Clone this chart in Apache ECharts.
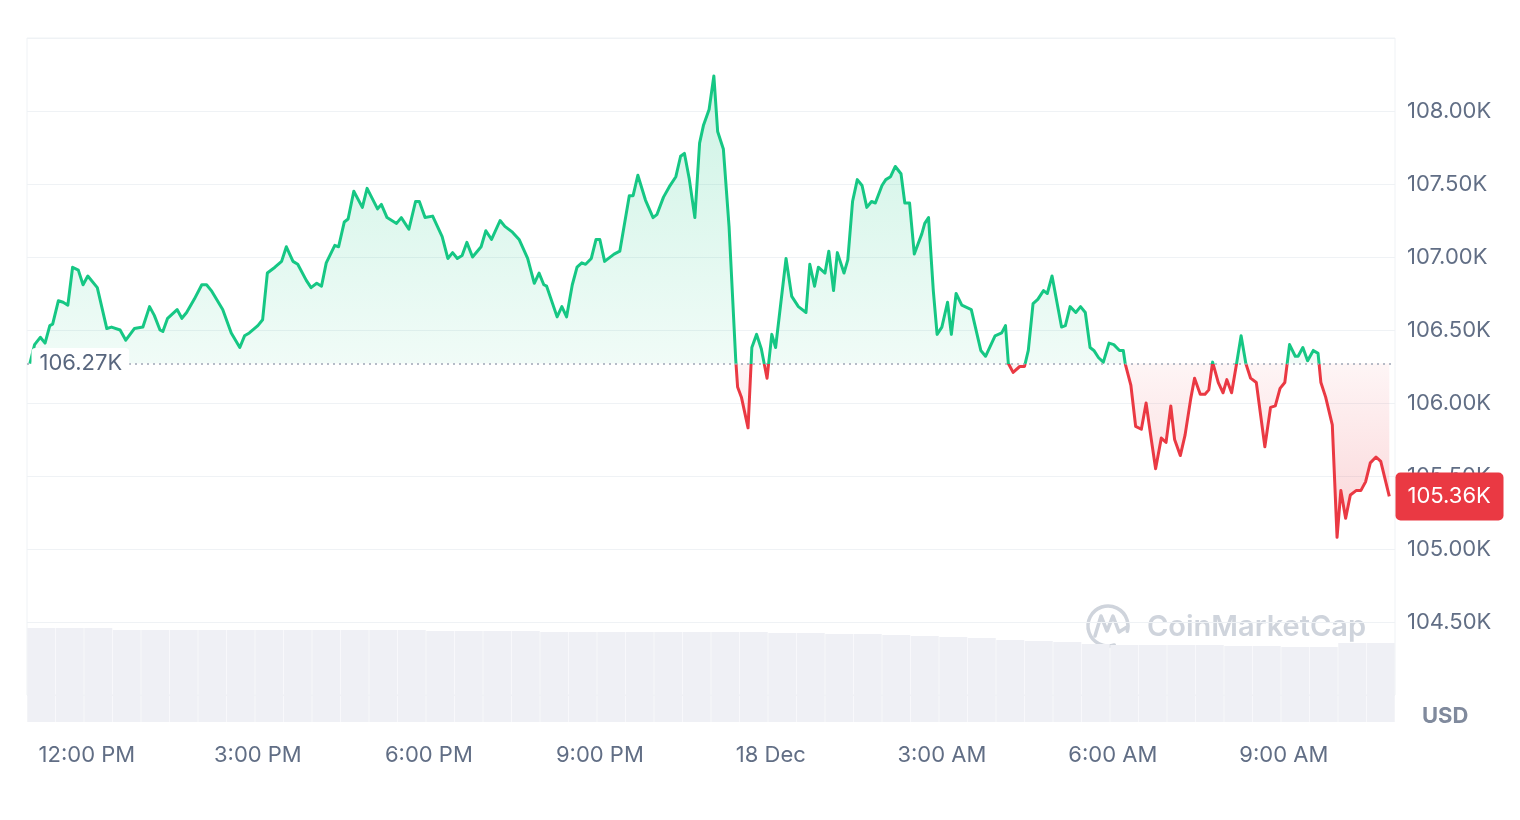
<!DOCTYPE html>
<html>
<head>
<meta charset="utf-8">
<title>BTC / USD - 24h</title>
<script src="https://cdn.jsdelivr.net/npm/echarts@6/dist/echarts.min.js"></script>
<style>
  html, body { margin: 0; padding: 0; background: #fff; }
  #chart { width: 1520px; height: 820px; }
</style>
</head>
<body>
<div id="chart"></div>
<script>
// minutes after 11:00 AM, 17 Dec
const times = [
  0, 5, 11, 16, 21, 24, 30, 35, 40, 45, 51, 56, 61, 71, 81, 86, 95, 101, 110, 119,
  126, 131, 137, 140, 145, 155, 160, 165, 173, 181, 186, 191, 203, 212, 221, 226, 231, 240, 245, 250,
  258, 265, 270, 277, 282, 291, 296, 302, 307, 312, 321, 325, 331, 335, 341, 350, 355, 366, 370, 376,
  386, 391, 399, 406, 410, 416, 424, 434, 440, 445, 450, 455, 460, 466, 475, 480, 486, 495, 500, 508,
  515, 524, 531, 536, 541, 544, 555, 560, 565, 571, 576, 581, 585, 591, 596, 600, 605, 615, 621, 631,
  635, 640, 648, 656, 660, 667, 673, 680, 685, 689, 694, 700, 705, 709, 715, 720, 724, 730, 736, 743,
  745, 749, 756, 760, 765, 770, 776, 781, 785, 796, 802, 809, 817, 821, 826, 830, 837, 841, 846, 850,
  857, 861, 866, 871, 876, 881, 886, 890, 897, 901, 906, 911, 917, 921, 926, 931, 939, 942, 946, 951,
  955, 960, 966, 970, 975, 981, 991, 1001, 1006, 1016, 1023, 1027, 1030, 1035, 1042, 1047, 1051, 1056, 1061, 1067,
  1071, 1076, 1086, 1090, 1095, 1101, 1106, 1111, 1116, 1120, 1125, 1130, 1136, 1141, 1147, 1151, 1153, 1159, 1164, 1170,
  1175, 1180, 1185, 1191, 1196, 1201, 1205, 1211, 1216, 1222, 1226, 1232, 1237, 1241, 1245, 1251, 1256, 1260, 1265, 1270,
  1275, 1280, 1285, 1291, 1300, 1306, 1311, 1316, 1321, 1326, 1332, 1335, 1340, 1345, 1351, 1356, 1359, 1364, 1371, 1376,
  1380, 1385, 1390, 1396, 1401, 1406, 1411, 1417, 1422, 1431
];

// BTC price, USD
const prices = [
  106270, 106400, 106450, 106410, 106530, 106540, 106700, 106690, 106670, 106930,
  106910, 106810, 106870, 106790, 106510, 106520, 106500, 106430, 106510, 106520,
  106660, 106600, 106500, 106490, 106580, 106640, 106580, 106620, 106710, 106810,
  106810, 106770, 106640, 106480, 106380, 106460, 106480, 106530, 106570, 106890,
  106930, 106970, 107070, 106970, 106950, 106840, 106790, 106820, 106800, 106960,
  107080, 107070, 107240, 107260, 107450, 107340, 107470, 107330, 107360, 107270,
  107230, 107270, 107190, 107380, 107380, 107270, 107280, 107140, 106990, 107030,
  106990, 107010, 107100, 107000, 107070, 107180, 107120, 107250, 107210, 107170,
  107120, 106990, 106820, 106890, 106810, 106800, 106590, 106660, 106590, 106810,
  106930, 106960, 106950, 106990, 107120, 107120, 106970, 107020, 107040, 107420,
  107420, 107560, 107390, 107270, 107290, 107410, 107480, 107550, 107690, 107710,
  107540, 107270, 107780, 107900, 108010, 108240, 107860, 107740, 107210, 106300,
  106110, 106040, 105830, 106380, 106470, 106370, 106170, 106470, 106380, 106990,
  106730, 106660, 106620, 106950, 106800, 106930, 106890, 107040, 106770, 107030,
  106890, 106980, 107380, 107530, 107490, 107340, 107380, 107370, 107490, 107530,
  107550, 107620, 107570, 107370, 107370, 107020, 107160, 107230, 107270, 106770,
  106470, 106520, 106690, 106470, 106750, 106670, 106640, 106360, 106320, 106460,
  106480, 106530, 106270, 106210, 106250, 106250, 106360, 106680, 106710, 106770,
  106750, 106870, 106520, 106530, 106660, 106620, 106660, 106620, 106380, 106360,
  106310, 106280, 106410, 106400, 106360, 106360, 106270, 106120, 105840, 105820,
  106000, 105770, 105550, 105760, 105730, 105980, 105750, 105640, 105780, 106030,
  106170, 106060, 106060, 106090, 106280, 106140, 106070, 106160, 106070, 106260,
  106460, 106270, 106170, 106140, 105700, 105970, 105980, 106100, 106140, 106400,
  106320, 106320, 106380, 106290, 106360, 106340, 106140, 106040, 105850, 105080,
  105400, 105210, 105370, 105400, 105400, 105460, 105590, 105630, 105600, 105360
];

const openPrice = 106270;

// volume, one bar per 30 min (relative units)
const volumes = [
  94, 94, 94, 92, 92, 92, 92, 92, 92, 92, 92, 92, 92, 92, 91, 91,
  91, 91, 90, 90, 90, 90, 90, 90, 90, 90, 89, 89, 88, 88, 87, 86,
  85, 84, 82, 81, 80, 78, 77, 77, 77, 77, 76, 76, 75, 75, 79, 79
];

const tickMinutes = [60, 240, 420, 600, 780, 960, 1140, 1320];
const tickLabels = ['12:00 PM', '3:00 PM', '6:00 PM', '9:00 PM', '18 Dec', '3:00 AM', '6:00 AM', '9:00 AM'];

const X_MIN = -3, X_MAX = 1437;
const GREEN = '#16c784', RED = '#ea3943';
const TXT = '#616e85';
const FONT = 'Inter, "Noto Sans", sans-serif';
const FS = 22;

const fmtK = v => (v / 1000).toFixed(2) + 'K';

// insert baseline crossings so the two fills meet cleanly
function withCrossings(ts, vs, base) {
  const out = [];
  for (let i = 0; i < ts.length; i++) {
    if (i > 0) {
      const a = vs[i - 1] - base, b = vs[i] - base;
      if (a * b < 0) {
        out.push([ts[i - 1] + (ts[i] - ts[i - 1]) * a / (a - b), base]);
      }
    }
    out.push([ts[i], vs[i]]);
  }
  return out;
}

const linePts = times.map((t, i) => [t, prices[i]]);
const areaPts = withCrossings(times, prices, openPrice);
const upPts = areaPts.map(([t, v]) => [t, Math.max(v, openPrice)]);
const downPts = areaPts.map(([t, v]) => [t, Math.min(v, openPrice)]);
const volPts = volumes.map((v, i) => [X_MIN + 15 + 30 * i, v]);
const lastPrice = prices[prices.length - 1];

const chart = echarts.init(document.getElementById('chart'));

chart.setOption({
  animation: false,
  backgroundColor: '#fff',
  textStyle: { fontFamily: FONT },
  grid: [
    { left: 27, right: 125, top: 38, bottom: 125, show: true,
      borderColor: '#eff2f5', borderWidth: 1, backgroundColor: 'transparent' },
    { left: 27, right: 125, top: 622, bottom: 98 }
  ],
  xAxis: [
    { type: 'value', gridIndex: 0, min: X_MIN, max: X_MAX,
      axisLine: { show: false }, axisTick: { show: false },
      axisLabel: { show: false }, splitLine: { show: false } },
    { type: 'value', gridIndex: 1, min: X_MIN, max: X_MAX,
      axisLine: { show: false }, axisTick: { show: false }, splitLine: { show: false },
      axisLabel: {
        customValues: tickMinutes,
        formatter: v => {
          const i = tickMinutes.indexOf(v);
          return i < 0 ? '' : tickLabels[i];
        },
        color: TXT, fontSize: FS, margin: 22, fontFamily: FONT
      } }
  ],
  yAxis: [
    { type: 'value', gridIndex: 0, position: 'right',
      min: 104000, max: 108500, interval: 500,
      axisLine: { show: false }, axisTick: { show: false },
      splitLine: { lineStyle: { color: '#eff2f5', width: 1 } },
      axisLabel: {
        margin: 12, color: TXT, fontSize: FS, fontFamily: FONT,
        formatter: v => (v <= 104000 || v >= 108500) ? '' : fmtK(v)
      } },
    { type: 'value', gridIndex: 1, min: 0, max: 100, show: false }
  ],
  series: [
    {
      type: 'bar', xAxisIndex: 1, yAxisIndex: 1,
      data: volPts, barWidth: 28, silent: true,
      itemStyle: { color: '#eff0f5' }
    },
    {
      type: 'line', data: upPts, symbol: 'none', silent: true, z: 2,
      lineStyle: { width: 0 },
      areaStyle: {
        origin: openPrice,
        color: { type: 'linear', x: 0, y: 0, x2: 0, y2: 1, colorStops: [
          { offset: 0, color: 'rgba(22,199,132,0.30)' },
          { offset: 1, color: 'rgba(22,199,132,0.09)' }
        ] }
      }
    },
    {
      type: 'line', data: downPts, symbol: 'none', silent: true, z: 2,
      lineStyle: { width: 0 },
      areaStyle: {
        origin: openPrice,
        color: { type: 'linear', x: 0, y: 0, x2: 0, y2: 1, colorStops: [
          { offset: 0, color: 'rgba(234,57,67,0.07)' },
          { offset: 1, color: 'rgba(234,57,67,0.30)' }
        ] }
      }
    },
    {
      type: 'line', data: linePts, symbol: 'none', showSymbol: false, z: 4, clip: false,
      lineStyle: { width: 3, join: 'round', color: GREEN },
      markLine: {
        silent: true, symbol: ['none', 'none'],
        label: { show: false },
        lineStyle: { color: '#9ea6b6', type: [2, 4], width: 1.5 },
        data: [{ yAxis: openPrice }]
      },
      markPoint: {
        silent: true,
        data: [
          {
            coord: [X_MIN, openPrice], symbol: 'rect', symbolSize: 1,
            itemStyle: { color: 'rgba(0,0,0,0)' },
            label: {
              show: true, position: 'right', distance: 4,
              formatter: fmtK(openPrice),
              backgroundColor: '#fff', borderRadius: 4,
              padding: [4, 7, 3, 8], lineHeight: 24,
              color: '#58667e', fontSize: FS, fontFamily: FONT
            }
          },
          {
            coord: [X_MAX, lastPrice], symbol: 'rect', symbolSize: 1,
            itemStyle: { color: 'rgba(0,0,0,0)' },
            label: {
              show: true, position: 'right', distance: 0,
              formatter: fmtK(lastPrice),
              backgroundColor: RED, borderRadius: 5,
              width: 85, height: 48, lineHeight: 48,
              padding: [0, 11, 0, 12],
              color: '#fff', fontSize: FS, fontFamily: FONT
            }
          }
        ]
      }
    }
  ],
  graphic: [
    {
      type: 'group', z: 10, silent: true,
      children: [
        { type: 'arc', shape: { cx: 1108, cy: 626, r: 20, startAngle: 1.25, endAngle: 6.55 },
          style: { stroke: '#cfd4dc', lineWidth: 3.5, fill: null, lineCap: 'round' } },
        { type: 'polyline', shape: { points: [[1095, 636], [1101, 616], [1107, 631], [1113, 616], [1119, 632], [1127, 627]] },
          style: { stroke: '#cfd4dc', lineWidth: 3.5, fill: null, lineJoin: 'round', lineCap: 'round' } },
        { type: 'text', x: 1147, y: 627,
          style: { text: 'CoinMarketCap', fill: '#cfd4dc', font: '600 29px ' + FONT, verticalAlign: 'middle' } }
      ]
    },
    {
      type: 'text', left: 1422, top: 705, silent: true,
      style: { text: 'USD', fill: '#808a9d', font: 'bold 22px ' + FONT }
    }
  ]
});

// line colour flips at the opening price: hard stop at its pixel row
const baseY = chart.convertToPixel({ yAxisIndex: 0 }, openPrice);
const H = chart.getHeight();
chart.setOption({
  series: [{}, {}, {}, {
    lineStyle: {
      color: { type: 'linear', x: 0, y: 0, x2: 0, y2: H, global: true, colorStops: [
        { offset: 0, color: GREEN },
        { offset: baseY / H, color: GREEN },
        { offset: baseY / H, color: RED },
        { offset: 1, color: RED }
      ] }
    }
  }]
});

window.addEventListener('resize', () => chart.resize());
</script>
</body>
</html>
